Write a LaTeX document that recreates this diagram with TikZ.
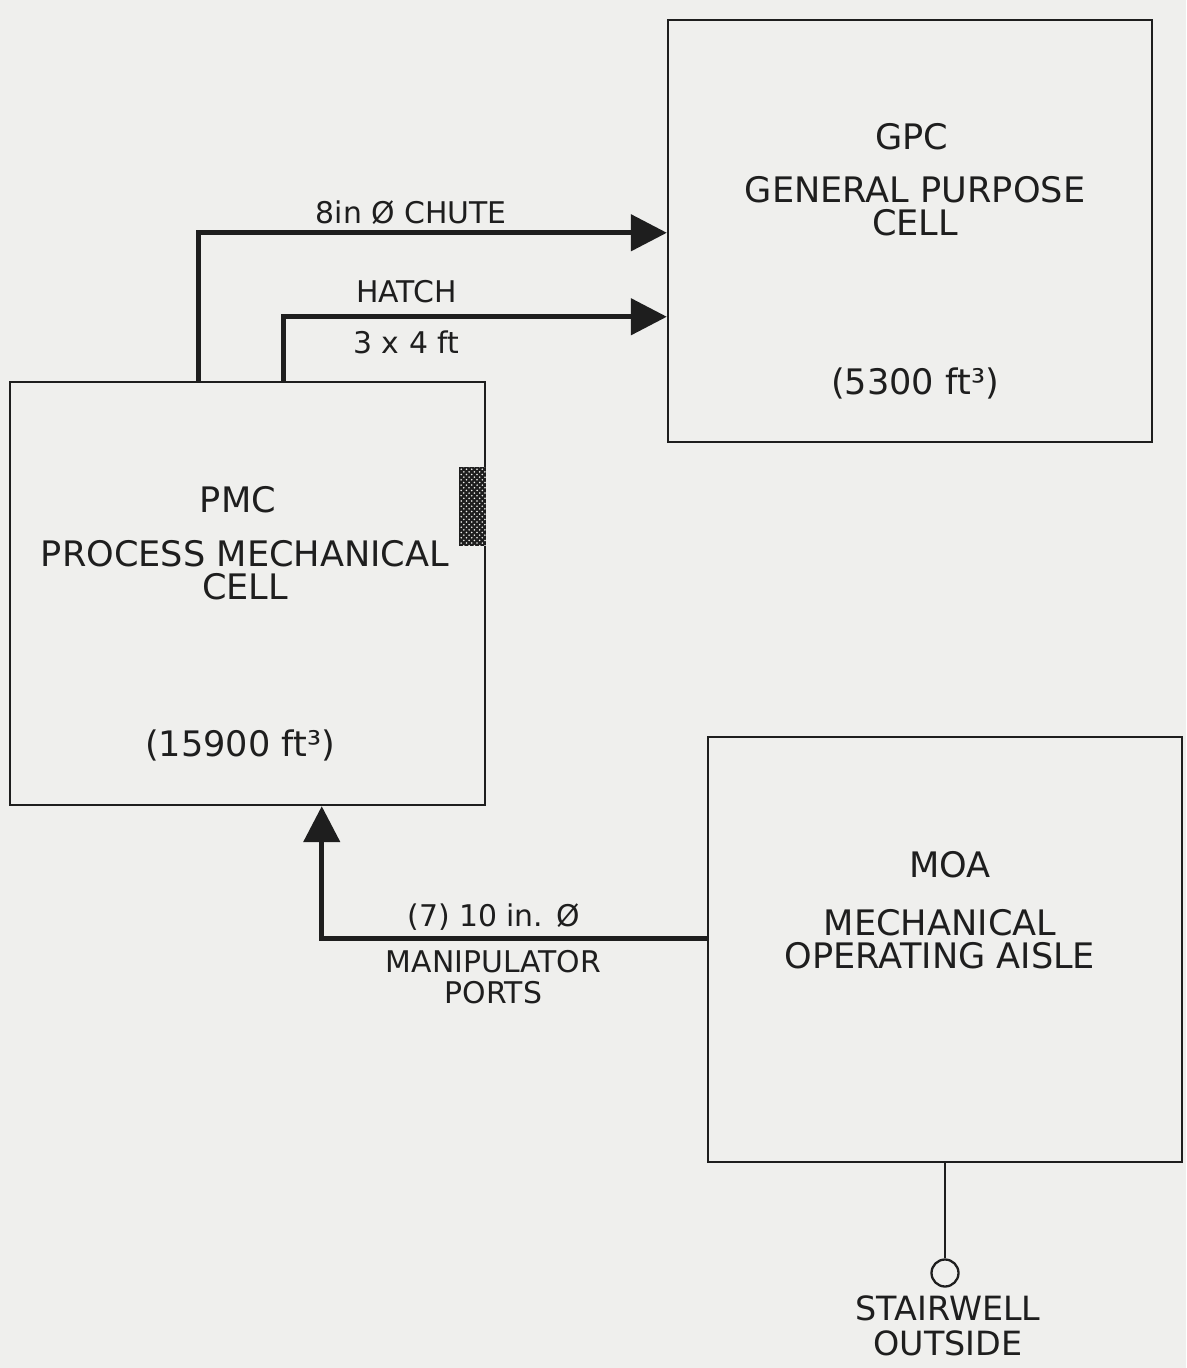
\documentclass[tikz,border=0pt]{standalone}
\usepackage{fontspec}
\setmainfont{DejaVu Sans}
\usepackage{xcolor}
\definecolor{paper}{RGB}{239, 239, 237}
\definecolor{ink}{RGB}{30, 30, 30}
\usepackage{tikz}
\usetikzlibrary{positioning,arrows.meta,patterns,calc}

\begin{document}
\begin{tikzpicture}[x=0.02cm, y=-0.02cm,
  cell/.style={draw=ink, rectangle, line width=1.4pt, inner sep=0pt},
  ttl/.style={text=ink, align=center, font=\fontsize{20}{19}\selectfont},
  lbl/.style={text=ink, align=center, font=\fontsize{17}{17.5}\selectfont},
  arr/.style={-{Triangle[length=0.72cm, width=0.72cm]}, draw=ink, line width=2.8pt},
  port/.style={rectangle, draw=ink, fill=ink, minimum width=0.52cm, minimum height=1.56cm,
               inner sep=0pt, postaction={pattern=crosshatch dots, pattern color=paper}}
]
\fill[paper] (0,0) rectangle (1186,1368);
\useasboundingbox (0,0) rectangle (1186,1368);

% cells
\node[cell, minimum width=9.68cm, minimum height=8.44cm] (gpc) at (910, 231)   {};
\node[cell, minimum width=9.5cm,  minimum height=8.46cm] (pmc) at (247.5, 593.5) {};
\node[cell, minimum width=9.48cm, minimum height=8.5cm]  (moa) at (945, 949.5) {};
\node[port, anchor=east] (port) at ([yshift=1.75cm]pmc.east) {};

% cell texts
\node[ttl] (gpcA) at (912, 137) {GPC};
\node[ttl] (gpcB) at (915, 206) {GENERAL PURPOSE\\CELL};
\node[ttl] (gpcV) at (915, 383) {(5300 ft³)};
\node[ttl] (pmcA) at (238, 500) {PMC};
\node[ttl] (pmcB) at (245, 570) {PROCESS MECHANICAL\\CELL};
\node[ttl] (pmcV) at (240, 745) {(15900 ft³)};
\node[ttl] (moaA) at (950, 865) {MOA};
\node[ttl] (moaB) at (940, 939) {MECHANICAL\\OPERATING AISLE};

% stairwell
\node[circle, draw=ink, line width=1.3pt, minimum size=0.54cm, inner sep=0pt] (stair) at (945, 1273) {};
\node[ttl, font=\fontsize{19}{20}\selectfont] (stairT) at (948, 1326) {STAIRWELL\\OUTSIDE};

% connectors
\draw[arr] ([xshift=3.8cm]pmc.north west) |- ([yshift=-4.28cm]gpc.north west)
  node[lbl, pos=0.727, above=0pt] {8in Ø CHUTE};
\draw[arr] ([xshift=5.5cm]pmc.north west) |- ([yshift=-5.96cm]gpc.north west)
  node[lbl, pos=0.66, above=3pt] {HATCH}
  node[lbl, pos=0.66, below=3pt] {3 x 4 ft};
\draw[arr] ([yshift=-4.06cm]moa.north west) -| ([xshift=6.26cm]pmc.south west)
  node[lbl, pos=0.277, above=0pt] {(7) 10 in. Ø}
  node[lbl, pos=0.277, below=2pt] {MANIPULATOR\\PORTS};
\draw[draw=ink, line width=1.4pt] (moa.south) -- (stair.north);
\end{tikzpicture}
\end{document}
